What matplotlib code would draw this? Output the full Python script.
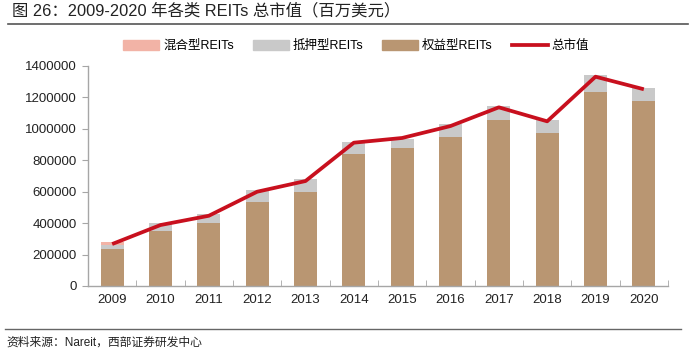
import matplotlib
matplotlib.use('Agg')
import matplotlib.pyplot as plt
from matplotlib.lines import Line2D
from matplotlib.patches import Patch
import numpy as np

plt.rcParams['font.family'] = ['Liberation Sans', 'Noto Sans CJK SC', 'DejaVu Sans']
plt.rcParams['axes.unicode_minus'] = False

years = ['2009', '2010', '2011', '2012', '2013', '2014',
         '2015', '2016', '2017', '2018', '2019', '2020']
# 百万美元
equity = [237000, 350000, 399000, 533000, 596000, 838000,
          876000, 950000, 1056000, 972000, 1237000, 1175000]
mortgage = [22000, 49000, 61000, 78000, 83000, 80000,
            61000, 79000, 91000, 84000, 104000, 85000]
hybrid = [23000, 0, 0, 0, 0, 0, 0, 0, 0, 0, 0, 0]
total = [267000, 388000, 447000, 600000, 668000, 912000,
         942000, 1018000, 1137000, 1048000, 1332000, 1252000]

c_hybrid = '#f2b3a6'
c_mort = '#c9c9c9'
c_equity = '#b99672'
c_line = '#c8101e'
c_axis = '#a6a6a6'

fig = plt.figure(figsize=(6.93, 3.5), dpi=100)
ax = fig.add_axes([88/693, 64/350, 580/693, 220/350])

x = np.arange(len(years))
w = 0.47
ax.bar(x, equity, width=w, color=c_equity, zorder=2)
ax.bar(x, mortgage, width=w, bottom=equity, color=c_mort, zorder=2)
bot2 = [a + b for a, b in zip(equity, mortgage)]
ax.bar(x, hybrid, width=w, bottom=bot2, color=c_hybrid, zorder=2)
ax.plot(x, total, color=c_line, lw=2.7, zorder=3, solid_capstyle='butt')

ax.set_xlim(-0.5, len(years) - 0.5)
ax.set_ylim(0, 1400000)
ax.set_yticks(np.arange(0, 1400001, 200000))
ax.set_yticklabels([str(v) for v in range(0, 1400001, 200000)], fontsize=9.5, color='#222222')
ax.set_xticks(x)
ax.set_xticklabels(years, fontsize=9.5, color='#222222')
ax.set_xticks(np.arange(-0.5, len(years), 1), minor=True)
ax.tick_params(axis='x', which='major', length=0, pad=6)
ax.tick_params(axis='x', which='minor', direction='in', length=4, color=c_axis)
ax.tick_params(axis='y', direction='out', length=4, color=c_axis, pad=4)

for s in ['top', 'right']:
    ax.spines[s].set_visible(False)
for s in ['left', 'bottom']:
    ax.spines[s].set_color(c_axis)
    ax.spines[s].set_linewidth(1)

handles = [Patch(color=c_hybrid), Patch(color=c_mort), Patch(color=c_equity),
           Line2D([0], [0], color=c_line, lw=2.7)]
labels = ['混合型REITs', '抵押型REITs', '权益型REITs', '总市值']
fig.legend(handles, labels, loc='center', bbox_to_anchor=(0.514, 1 - 46/350),
           ncol=4, frameon=False, fontsize=9, handlelength=2.9, handleheight=0.8,
           columnspacing=1.5, handletextpad=0.3)

fig.text(12/693, 1 - 11/350, '图 26：2009-2020 年各类 REITs 总市值（百万美元）',
         fontsize=11.8, va='center', ha='left', color='#222222')
fig.add_artist(Line2D([8/693, 688/693], [1 - 23.5/350, 1 - 23.5/350], color='#555555', lw=1.2))
fig.add_artist(Line2D([5/693, 681/693], [1 - 328.5/350, 1 - 328.5/350], color='#666666', lw=1.0))
fig.text(6/693, 1 - 343/350, '资料来源：Nareit，西部证券研发中心',
         fontsize=8.5, va='center', ha='left', color='#222222')

fig.savefig('out.png', dpi=100)
